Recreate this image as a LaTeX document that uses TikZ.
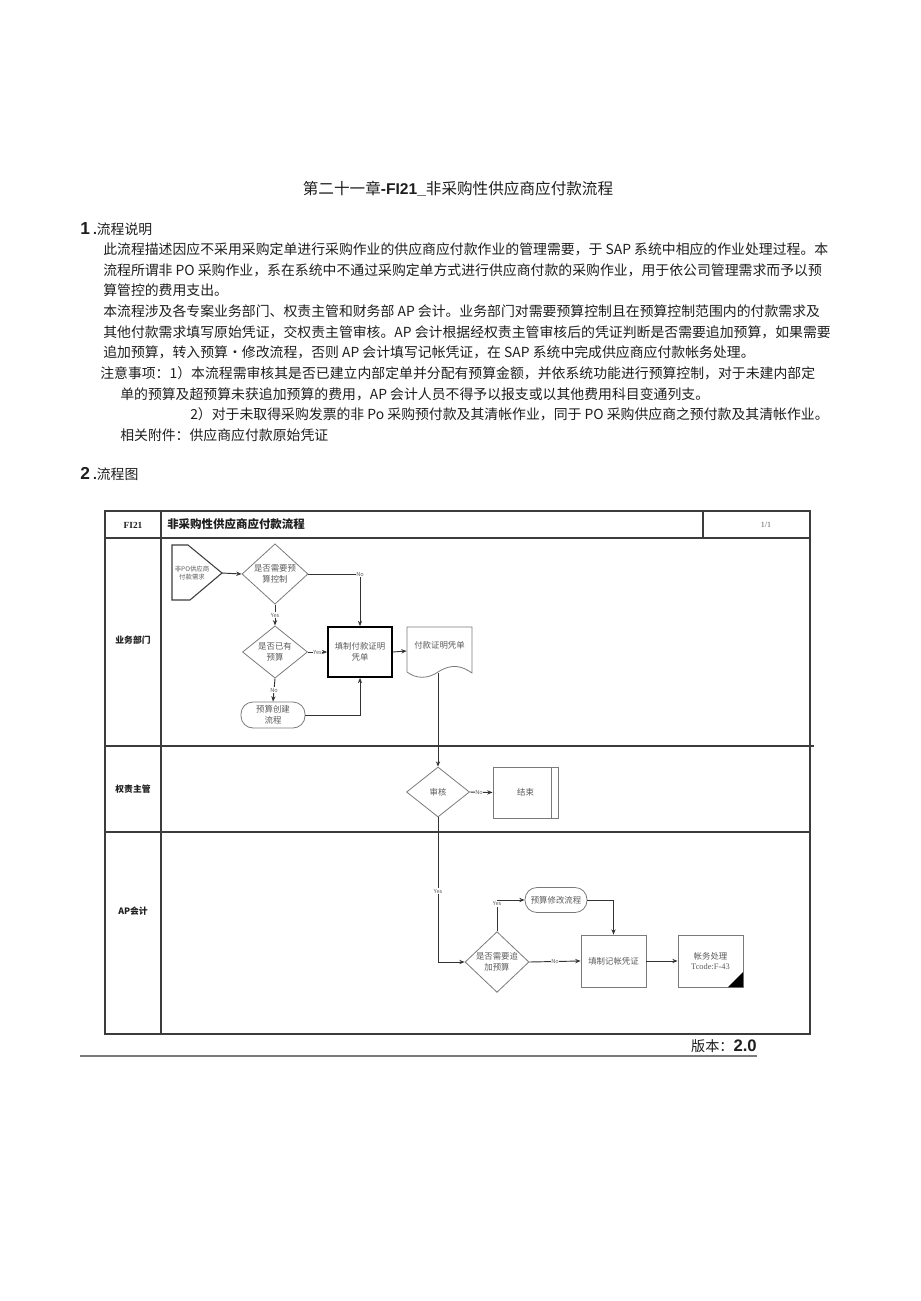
\documentclass[tikz,border=0pt]{standalone}
\usepackage{fontspec}
\setmainfont{Noto Sans CJK SC}
\newfontfamily\hei{Liberation Sans}
\newfontfamily\serifb{Liberation Serif}
\usetikzlibrary{arrows.meta,shapes.geometric}
\definecolor{txt}{HTML}{1E1E1E}
\definecolor{ntxt}{HTML}{5A5A5A}
\definecolor{bord}{HTML}{7A7A7A}
\definecolor{lnc}{HTML}{333333}
\definecolor{frm}{HTML}{3C3C3C}
\begin{document}
\begin{tikzpicture}[x=0.75pt,y=-0.75pt,
  body/.style={anchor=west,inner sep=0pt,text=txt,font=\fontsize{10.4pt}{12pt}\selectfont},
  shp/.style={draw=bord,line width=0.6pt,inner sep=0pt,align=center,text=ntxt,font=\fontsize{6.3pt}{8.2pt}\selectfont},
  dia/.style 2 args={shp,diamond,minimum width=#1*0.75pt,minimum height=#2*0.75pt},
  box/.style 2 args={shp,rectangle,minimum width=#1*0.75pt,minimum height=#2*0.75pt},
  term/.style 2 args={box={#1}{#2},rounded corners=9pt},
  plain/.style 2 args={rectangle,inner sep=0pt,align=center,text=ntxt,minimum width=#1*0.75pt,minimum height=#2*0.75pt,font=\fontsize{6.3pt}{8.2pt}\selectfont},
  arr/.style={draw=lnc,line width=0.7pt,-{Stealth[length=4pt,width=3.2pt]}},
  ln/.style={draw=lnc,line width=0.7pt},
  lbl/.style={fill=white,inner sep=0.5pt,text=ntxt,font=\fontsize{4.2pt}{5pt}\selectfont},
  frame/.style={draw=frm,line width=1.1pt},
  lane/.style={text=txt,font=\fontsize{6.6pt}{8pt}\selectfont\bfseries}
]
\useasboundingbox (0,0) rectangle (920,1301);

% ---------- text section ----------
\node[inner sep=0pt,text=txt,font=\fontsize{11.7pt}{13pt}\selectfont] (title) at (458,189)
  {第二十一章{\hei\bfseries -FI21\_}非采购性供应商应付款流程};
\node[body] (h1) at (80,229) {{\hei\bfseries\fontsize{13pt}{14pt}\selectfont 1} {\hei\bfseries .}流程说明};
\node[body] (p1) at (103,249) {此流程描述因应不采用采购定单进行采购作业的供应商应付款作业的管理需要，于 SAP 系统中相应的作业处理过程。本};
\node[body] (p2) at (103,270) {流程所谓非 PO 采购作业，系在系统中不通过采购定单方式进行供应商付款的采购作业，用于依公司管理需求而予以预};
\node[body] (p3) at (103,290) {算管控的费用支出。};
\node[body] (p4) at (103,311) {本流程涉及各专案业务部门、权责主管和财务部 AP 会计。业务部门对需要预算控制且在预算控制范围内的付款需求及};
\node[body] (p5) at (103,332) {其他付款需求填写原始凭证，交权责主管审核。AP 会计根据经权责主管审核后的凭证判断是否需要追加预算，如果需要};
\node[body] (p6) at (103,352) {追加预算，转入预算•修改流程，否则 AP 会计填写记帐凭证，在 SAP 系统中完成供应商应付款帐务处理。};
\node[body] (p7) at (100,373) {注意事项：1）本流程需审核其是否已建立内部定单并分配有预算金额，并依系统功能进行预算控制，对于未建内部定};
\node[body] (p8) at (120,394) {单的预算及超预算未获追加预算的费用，AP 会计人员不得予以报支或以其他费用科目变通列支。};
\node[body] (p9) at (190,414) {2）对于未取得采购发票的非 Po 采购预付款及其清帐作业，同于 PO 采购供应商之预付款及其清帐作业。};
\node[body] (p10) at (120,435) {相关附件：供应商应付款原始凭证};
\node[body] (h2) at (80,474) {{\hei\bfseries\fontsize{13pt}{14pt}\selectfont 2} {\hei\bfseries .}流程图};

% ---------- frame ----------
\draw[frame] (105,511) rectangle (810,1034);
\draw[frame] (105,538) -- (810,538);
\draw[frame] (161,511) -- (161,1034);
\draw[frame] (703,511) -- (703,538);
\draw[frame] (105,746) -- (814,746);
\draw[frame] (105,832) -- (810,832);
\node[text=txt,font=\serifb\bfseries\fontsize{7pt}{8pt}\selectfont] (hid) at (133,525) {FI21};
\node[anchor=west,inner sep=0pt,text=txt,font=\fontsize{8.6pt}{10pt}\selectfont\bfseries] (hname) at (167,524) {非采购性供应商应付款流程};
\node[text=ntxt,font=\serifb\fontsize{6pt}{7pt}\selectfont] (hpg) at (766,525) {1/1};
\node[lane] (l1) at (133,640) {业务部门};
\node[lane] (l2) at (133,789) {权责主管};
\node[lane] (l3) at (133,911) {AP会计};

% ---------- lane 1 ----------
\node[plain={34}{40},font=\fontsize{4.8pt}{6.6pt}\selectfont] (st) at (192,573) {非PO供应商\\付款需求};
\draw[draw=frm,line width=0.8pt] (172,545) -- (188,545) -- (222,573) -- (190,600) -- (172,600) -- cycle;
\coordinate (sttip) at (222,573);
\node[dia={66}{52}] (d1) at (275,574) {是否需要预\\算控制};
\node[dia={65}{51}] (d2) at (275,652) {是否已有\\预算};
\node[box={64}{50},draw=black,line width=1.3pt] (r1) at (360,652) {填制付款证明\\凭单};
\node[term={64}{26}] (t1) at (273,715) {预算创建\\流程};
\node[plain={65}{48}] (doc) at (439.5,651) {};
\node[text=ntxt,inner sep=0pt,font=\fontsize{6.3pt}{8pt}\selectfont] (doctxt) at (439.5,645) {付款证明凭单};
\draw[draw=bord,line width=0.6pt] (407,672) -- (407,627) -- (472,627) -- (472,673)
  .. controls (462,666) and (452,663) .. (438,672)
  .. controls (428,679) and (416,679) .. (407,672);
\coordinate (docb) at (438,673);

\draw[arr] (sttip) -- (d1.west);
\draw[arr] (d1.east) -- (d1.east -| r1.north) node[lbl] {No} -- (r1.north);
\draw[arr] (d1.south) -- node[lbl] {Yes} (d2.north);
\draw[arr] (d2.east) -- node[lbl] {Yes} (r1.west);
\draw[arr] (d2.south) -- node[lbl] {No} (t1.north);
\draw[arr] (t1.east) -- (t1.east -| r1.south) -- (r1.south);
\draw[arr] (r1.east) -- (doc.west);

% ---------- lane 2 ----------
\node[dia={63}{50}] (d3) at (438,792) {审核};
\node[box={65}{51}] (e1) at (525.5,792.5) {结束};
\draw[draw=bord,line width=0.6pt] (551,767) -- (551,818);
\draw[arr] (docb) -- (d3.north);
\draw[arr] (d3.east) -- node[lbl,pos=0.4] {No} (e1.west);

% ---------- lane 3 ----------
\node[dia={64}{50}] (d4) at (497,962) {是否需要追\\加预算};
\node[term={62}{25}] (t2) at (556,900) {预算修改流程};
\node[box={65}{52}] (r2) at (613.5,961) {填制记帐凭证};
\node[box={65}{52}] (r3) at (710.5,961) {帐务处理\\{\serifb Tcode:F-43}};
\fill[black] (743,987) -- (743,972) -- (728,987) -- cycle;

\draw[arr] (d3.south) -- node[lbl,pos=0.51] {Yes} (d3.south |- d4.west) -- (d4.west);
\draw[arr] (d4.north) -- (d4.north |- t2.west) node[lbl,below=0.5pt] {Yes} -- (t2.west);
\draw[arr] (t2.east) -- (t2.east -| r2.north) -- (r2.north);
\draw[arr] (d4.east) -- node[lbl] {No} (r2.west);
\draw[arr] (r2.east) -- (r3.west);

% ---------- footer ----------
\draw[draw=bord,line width=0.8pt] (80,1056) -- (757,1056);
\node[anchor=east,inner sep=0pt,text=txt,font=\fontsize{10.6pt}{12pt}\selectfont] (ver) at (757,1046) {版本：{\hei\bfseries\fontsize{12.5pt}{13pt}\selectfont 2.0}};
\end{tikzpicture}
\end{document}
